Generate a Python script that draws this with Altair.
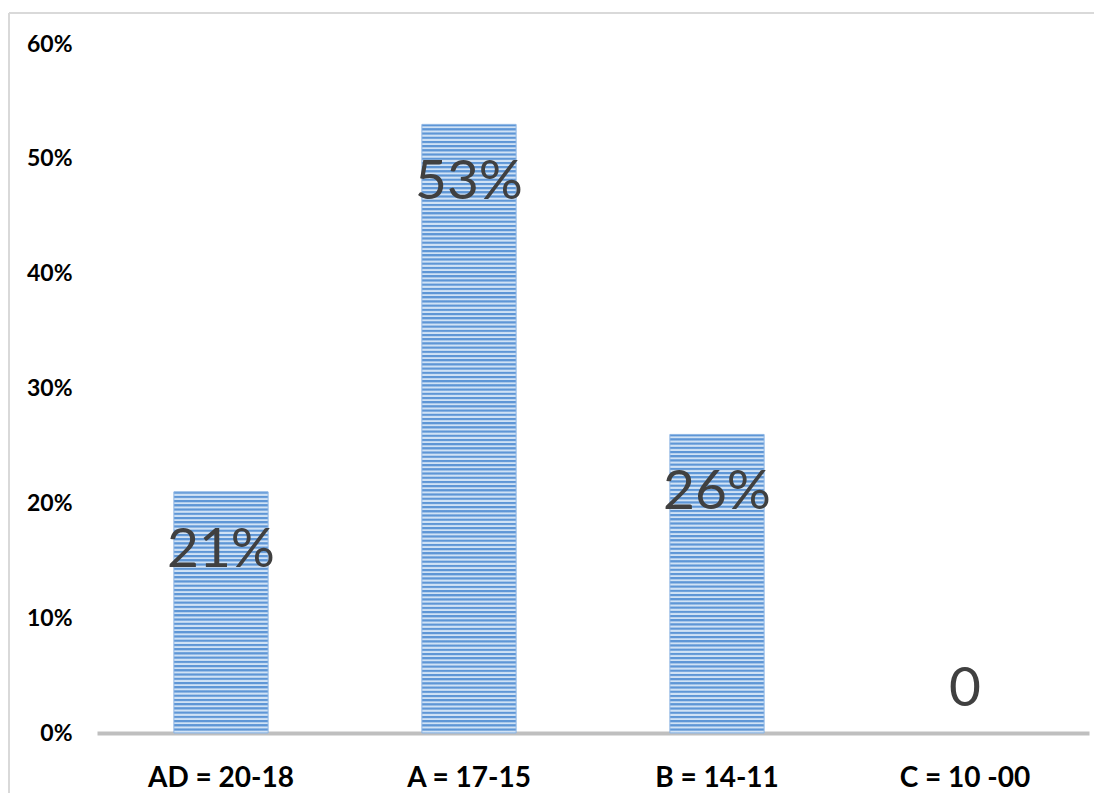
import altair as alt
import pandas as pd

categories = ["AD = 20-18", "A = 17-15", "B = 14-11", "C = 10 -00"]
values = [0.21, 0.53, 0.26, 0.0]
value_labels = ["21%", "53%", "26%", "0"]
y_ticks = [0.0, 0.1, 0.2, 0.3, 0.4, 0.5, 0.6]

df = pd.DataFrame({"cat": categories, "val": values, "lab": value_labels})

W, H = 992, 689
YMAX = 0.6
PERIOD = 4.2
DARK = "#5E96D6"
LIGHT = "#D0E2F5"

x_enc = alt.X("cat:N", sort=categories,
              scale=alt.Scale(paddingInner=0.62, paddingOuter=0.31),
              axis=alt.Axis(title=None, labelAngle=0, labelFontSize=28, labelFont="Lato",
                            labelFontWeight="bold", labelColor="#000000", ticks=False, tickSize=0,
                            labelPadding=31, domainColor="#BFBFBF", domainWidth=4))
y_enc = alt.Y("val:Q", scale=alt.Scale(domain=[0, YMAX]),
              axis=alt.Axis(title=None, values=y_ticks, format=".0%", labelFontSize=23,
                            labelFont="Lato", labelFontWeight="bold", labelColor="#000000",
                            grid=False, domain=False, ticks=False, tickSize=0, labelPadding=25))

layers = []
for c, v in zip(categories, values):
    if v <= 0:
        continue
    h = v / YMAX * H
    n = max(1, round(h / PERIOD))
    stops = []
    for i in range(n):
        stops.append(alt.GradientStop(offset=i / n, color=DARK))
        stops.append(alt.GradientStop(offset=(i + 0.3) / n, color=DARK))
        stops.append(alt.GradientStop(offset=(i + 0.6) / n, color=LIGHT))
        stops.append(alt.GradientStop(offset=(i + 0.85) / n, color=LIGHT))
    stops.append(alt.GradientStop(offset=1.0, color=DARK))
    grad = alt.LinearGradient(gradient="linear", stops=stops, x1=0, x2=0, y1=0, y2=1)
    layer = alt.Chart(df).transform_filter(alt.datum.cat == c).mark_bar(
        color=grad, stroke="#8DB6E4", strokeWidth=1
    ).encode(x=x_enc, y=y_enc)
    layers.append(layer)

text_in = alt.Chart(df).transform_filter(alt.datum.val > 0).mark_text(
    font="Lato", fontSize=55, color="#404040", baseline="alphabetic", dy=75
).encode(x=alt.X("cat:N", sort=categories), y="val:Q", text="lab:N")

text_zero = alt.Chart(df).transform_filter(alt.datum.val <= 0).mark_text(
    font="Lato", fontSize=55, color="#404040", baseline="alphabetic", dy=-27
).encode(x=alt.X("cat:N", sort=categories), y="val:Q", text="lab:N")

border_top = alt.Chart(df).mark_rule(color="#D9D9D9", strokeWidth=2).encode(
    x=alt.value(-88), x2=alt.value(1010), y=alt.value(-31))
border_left = alt.Chart(df).mark_rule(color="#D9D9D9", strokeWidth=2).encode(
    x=alt.value(-88), y=alt.value(-31), y2=alt.value(760))

chart = alt.layer(*layers, text_in, text_zero, border_top, border_left).properties(
    width=W, height=H,
    autosize=alt.AutoSizeParams(type="none"),
    padding={"left": 89, "top": 36, "right": 5, "bottom": 60},
    background="#FFFFFF",
).configure_view(stroke=None)

chart.save("out.html", embed_options={"renderer": "svg", "actions": False})
